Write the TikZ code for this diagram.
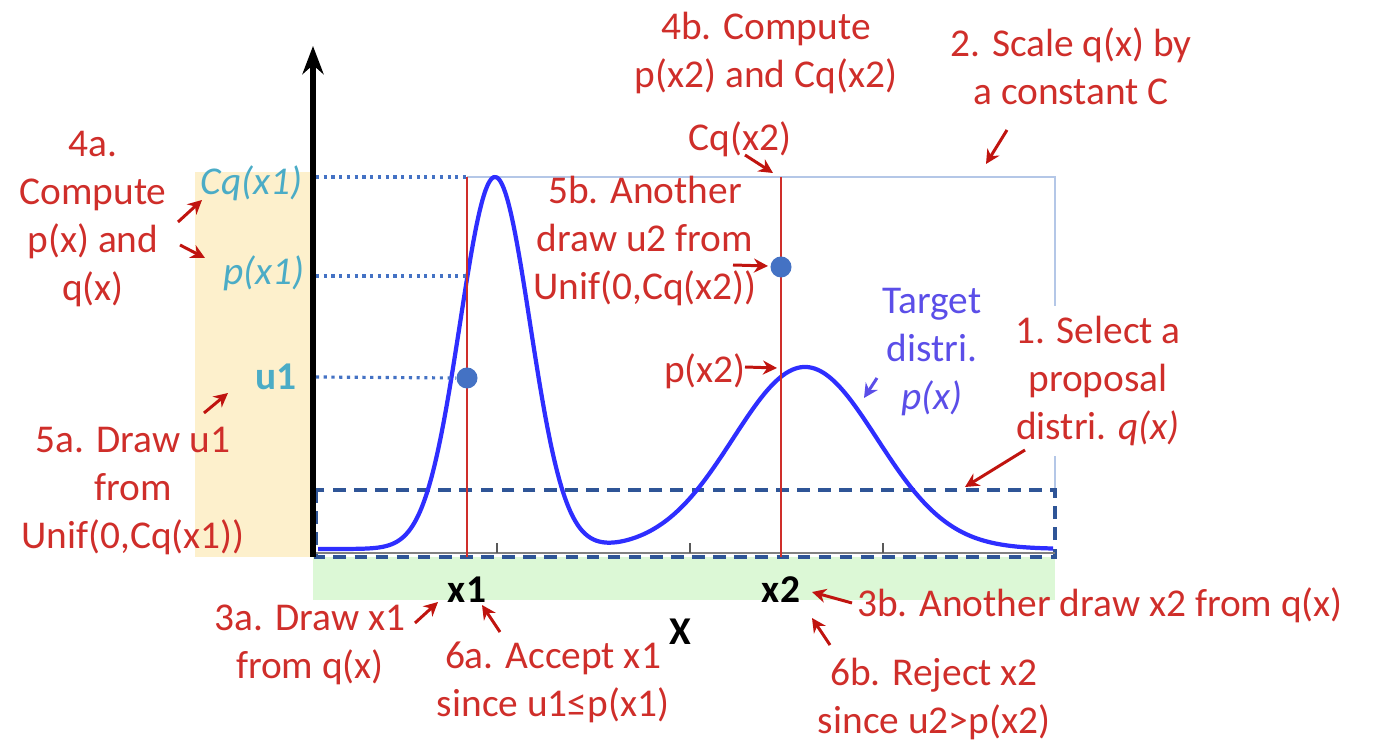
\documentclass[tikz,border=0pt]{standalone}
\usepackage{fontspec}
\setmainfont{Carlito}
\usepackage{tikz}
\usetikzlibrary{arrows.meta}
\definecolor{annred}{HTML}{CF2E2A}
\definecolor{arrred}{HTML}{C0140F}
\definecolor{lblcyan}{HTML}{4BACC6}
\definecolor{tgtviolet}{HTML}{5B4EE8}
\definecolor{curveblue}{HTML}{2E2EFF}
\definecolor{dotblue}{HTML}{4472C4}
\definecolor{propblue}{HTML}{2F5597}
\definecolor{envblue}{HTML}{B4C7E7}
\definecolor{ybg}{HTML}{FDF0CC}
\definecolor{gbg}{HTML}{DCF8D6}
\tikzset{
  note/.style={font=\fontsize{11.2}{13.6}\selectfont, text=annred, align=center, inner sep=0pt},
  ylab/.style={font=\fontsize{11.2}{13.6}\selectfont\itshape, text=lblcyan, inner sep=0pt, anchor=east},
  xlab/.style={font=\fontsize{11.2}{13.6}\selectfont\bfseries, inner sep=0pt},
  callout/.style={-{Stealth[length=4pt,width=4pt]}, draw=arrred, line width=0.85pt},
  guide/.style={draw=dotblue, line width=0.9pt, dash pattern=on 0.9pt off 1.3pt},
  sample/.style={draw=annred, line width=0.6pt},
  ptdot/.style={circle, fill=dotblue, minimum size=0.21cm, inner sep=0pt}
}
\begin{document}
\begin{tikzpicture}[x=0.01cm, y=-0.01cm]
\useasboundingbox (0,0) rectangle (1375,740);
\fill[ybg] (195,172) rectangle (313,557);
\fill[gbg] (313,557) rectangle (1055,600);
\coordinate (origin) at (313,557);
\coordinate (ytop) at (313,46);
\coordinate (xend) at (1055,553);
% envelope C q(x) and proposal q(x)
\draw[envblue, line width=0.5pt] (467,177) -- (1055,177) -- (1055,490);
\draw[propblue, line width=0.9pt, dash pattern=on 3.6pt off 2.4pt] (316,490) rectangle (1055,557);
\draw[gray, line width=0.8pt] (313,553) -- (xend);
\foreach \tx in {497,690,883} \draw[gray!70!black, line width=0.6pt] (\tx,553) -- (\tx,543);
% target p(x)
\draw[curveblue, line width=1.2pt, line join=round] plot[domain=318:1053, samples=260, smooth]
  (\x,{549-372*exp(-0.5*((\x-495)/35)^2)-182*exp(-0.5*((\x-805)/72)^2)});
\draw[-{Stealth[length=8pt,width=6pt]}, line width=1.8pt] (origin) -- (ytop);
\coordinate (s1top) at (467,177); \coordinate (s1bot) at (467,557);
\coordinate (s2top) at (781,177); \coordinate (s2bot) at (781,557);
\draw[sample] (s1top) -- (s1bot);
\draw[sample] (s2top) -- (s2bot);
\node[ptdot] (u1dot) at (467,378) {};
\node[ptdot] (u2dot) at (781,267) {};
\node[ylab] (cq1) at (303,183) {Cq(x1)};
\node[ylab] (p1) at (305,273) {p(x1)};
\node[ylab, font=\fontsize{11.2}{13.6}\selectfont\bfseries] (u1) at (297,377) {u1};
\draw[guide] (316,177) -- (s1top);
\draw[guide] (316,276) -- (467,276);
\draw[guide] (316,377) -- (u1dot.west);
\node[xlab] (x1) at (467,590) {x1};
\node[xlab] (x2) at (781,590) {x2};
\node[xlab] (xaxis) at (680,632) {X};
% annotations
\node[note] (n4a) at (93,219) {4a.\\Compute\\p(x) and\\q(x)};
\node[note] (n5a) at (133,491) {5a. Draw u1\\from\\Unif(0,Cq(x1))};
\node[note] (n4b) at (766,53) {4b. Compute\\p(x2) and Cq(x2)};
\node[note] (ncq2) at (740,139) {Cq(x2)};
\node[note] (n2) at (1071,66) {2. Scale q(x) by\\a constant C};
\node[note, fill=white, inner sep=3pt] (n1) at (1098,381) {1. Select a\\proposal\\distri. \textit{q(x)}};
\node[note, text=tgtviolet] (ntgt) at (932,352) {Target\\distri.\\\textit{p(x)}};
\node[note] (np2) at (705,371) {p(x2)};
\node[note] (n5b) at (645,241) {5b. Another\\draw u2 from\\Unif(0,Cq(x2))};
\node[note] (n3a) at (310,645) {3a. Draw x1\\from q(x)};
\node[note] (n6a) at (553,682) {6a. Accept x1\\since u1≤p(x1)};
\node[note] (n3b) at (1100,605) {3b. Another draw x2 from q(x)};
\node[note] (n6b) at (934,699) {6b. Reject x2\\since u2>p(x2)};
\coordinate (t4a1) at (178,222); \coordinate (h4a1) at (202,200);
\coordinate (t4a2) at (180,245); \coordinate (h4a2) at (205,258);
\coordinate (t5a) at (204,413); \coordinate (h5a) at (228,393);
\coordinate (tcq2) at (745,155); \coordinate (hcq2) at (773,173);
\coordinate (t2) at (1007,130); \coordinate (h2) at (986,164);
\coordinate (t1) at (1025,450); \coordinate (h1) at (965,487);
\coordinate (ttgt) at (877,378); \coordinate (htgt) at (864,398);
\coordinate (tp2) at (745,367); \coordinate (hp2) at (777,368);
\coordinate (t5b) at (733,265); \coordinate (h5b) at (768,266);
\coordinate (t3a) at (415,623); \coordinate (h3a) at (438,602);
\coordinate (t6a) at (500,632); \coordinate (h6a) at (482,605);
\coordinate (t3b) at (852,603); \coordinate (h3b) at (812,592);
\coordinate (t6b) at (830,645); \coordinate (h6b) at (812,618);
\draw[callout] (t4a1) -- (h4a1);
\draw[callout] (t4a2) -- (h4a2);
\draw[callout] (t5a) -- (h5a);
\draw[callout] (tcq2) -- (hcq2);
\draw[callout] (t2) -- (h2);
\draw[callout] (t1) -- (h1);
\draw[callout, draw=tgtviolet] (ttgt) -- (htgt);
\draw[callout] (tp2) -- (hp2);
\draw[callout] (t5b) -- (h5b);
\draw[callout] (t3a) -- (h3a);
\draw[callout] (t6a) -- (h6a);
\draw[callout] (t3b) -- (h3b);
\draw[callout] (t6b) -- (h6b);
\end{tikzpicture}
\end{document}
